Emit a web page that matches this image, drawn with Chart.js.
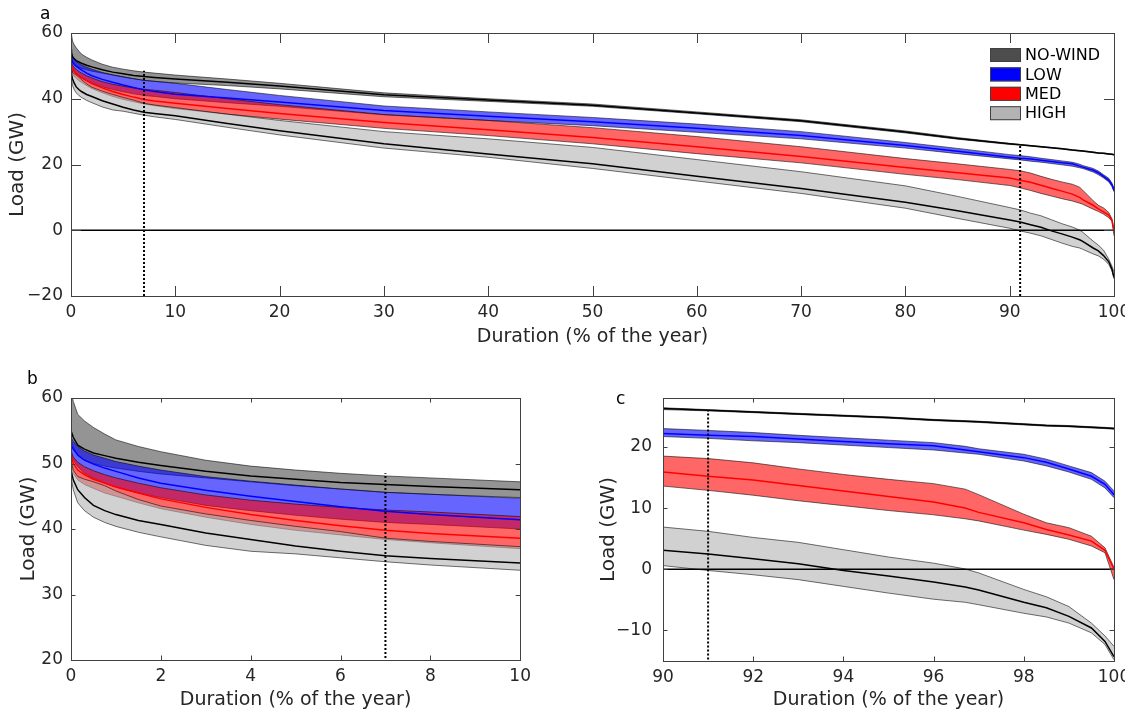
<!DOCTYPE html>
<html>
<head>
<meta charset="utf-8">
<title>Residual load duration curves</title>
<script src="https://cdn.jsdelivr.net/npm/chart.js@4.4.0/dist/chart.umd.min.js"></script>
<style>
  html, body { margin: 0; padding: 0; background: #fff; overflow: hidden; width: 1125px; height: 713px; }
  canvas { position: absolute; }
  .tag { position: absolute; font: 17px "DejaVu Sans", sans-serif; line-height: 17px; color: #000; }
</style>
</head>
<body>
<canvas id="panelA" width="1140" height="355" style="left:0;top:0"></canvas>
<canvas id="panelB" width="537" height="353" style="left:0;top:360px"></canvas>
<canvas id="panelC" width="560" height="353" style="left:580px;top:360px"></canvas>
<div class="tag" style="left:40px;top:5px">a</div>
<div class="tag" style="left:27px;top:370px">b</div>
<div class="tag" style="left:616px;top:390px">c</div>

<script>
// duration (% of the year) where the curves were read
const duration = [0, 0.05, 0.15, 0.3, 0.5, 0.75, 1, 1.5, 2, 3, 4, 5, 6, 7, 8, 10, 15, 20, 30, 40, 50, 60, 70, 80, 85, 90, 91, 92, 93, 94, 95, 96, 96.7, 97, 98, 98.5, 99, 99.5, 99.8, 100];

// load (GW) per scenario: upper edge, central curve, lower edge
const noWindUpper = [61, 59.5, 57.5, 56.5, 55.5, 54.5, 53.6, 52.6, 51.8, 50.5, 49.6, 49.0, 48.5, 48.1, 47.8, 47.2, 46.0, 44.7, 41.8, 40.0, 38.4, 36.0, 33.6, 30.2, 28.2, 26.4, 26.1, 25.8, 25.5, 25.2, 24.9, 24.5, 24.3, 24.2, 23.8, 23.6, 23.5, 23.3, 23.2, 23.1];
const noWindMid   = [55, 54, 52.8, 52.2, 51.6, 51.2, 50.8, 50.2, 49.7, 48.8, 48.1, 47.6, 47.1, 46.8, 46.5, 46.0, 45.0, 43.9, 41.2, 39.6, 38.0, 35.7, 33.3, 29.9, 27.9, 26.3, 26.0, 25.7, 25.4, 25.1, 24.8, 24.4, 24.2, 24.1, 23.7, 23.5, 23.4, 23.2, 23.1, 23.0];
const noWindLower = [53.5, 52.5, 51.2, 50.5, 50.0, 49.6, 49.3, 48.8, 48.4, 47.8, 47.2, 46.6, 46.1, 45.6, 45.3, 44.8, 44.0, 43.0, 40.6, 39.2, 37.7, 35.4, 33.0, 29.6, 27.7, 26.1, 25.9, 25.6, 25.3, 25.0, 24.7, 24.3, 24.1, 24.0, 23.6, 23.4, 23.3, 23.1, 23.0, 22.9];

const lowUpper = [54.0, 53.4, 52.6, 51.9, 51.3, 50.8, 50.3, 49.6, 49.0, 48.0, 47.3, 46.7, 46.1, 45.6, 45.3, 44.7, 42.8, 41.0, 37.8, 36.0, 34.3, 32.3, 30.0, 26.7, 24.9, 23.0, 22.7, 22.35, 21.9, 21.5, 21.1, 20.7, 20.1, 19.7, 18.8, 18.0, 16.9, 15.8, 14.4, 12.8];
const lowMid   = [52.8, 52.2, 51.3, 50.5, 49.9, 49.3, 48.8, 47.8, 47.0, 45.9, 45.0, 44.2, 43.4, 42.7, 42.2, 41.4, 40.2, 39.0, 36.4, 34.7, 33.0, 31.0, 28.8, 25.8, 24.0, 22.2, 21.9, 21.7, 21.3, 20.9, 20.5, 20.2, 19.5, 19.2, 18.25, 17.5, 16.4, 15.2, 13.9, 12.2];
const lowLower = [51.5, 50.5, 49.5, 48.5, 47.8, 47.0, 46.4, 45.5, 44.8, 43.6, 42.8, 42.1, 41.5, 41.0, 40.7, 40.0, 38.8, 37.7, 35.1, 33.4, 31.8, 29.8, 27.8, 25.0, 23.3, 21.7, 21.4, 21.0, 20.7, 20.3, 19.9, 19.5, 19.0, 18.8, 17.7, 16.9, 15.9, 14.7, 13.3, 11.7];

const medUpper = [52.0, 51.0, 50.2, 49.5, 48.9, 48.3, 47.8, 47.0, 46.3, 45.2, 44.4, 43.8, 43.3, 42.9, 42.6, 41.9, 40.0, 38.2, 35.2, 33.4, 31.2, 28.5, 25.4, 21.8, 20.2, 18.5, 18.1, 17.4, 16.4, 15.5, 14.7, 14.0, 13.1, 12.2, 9.0, 7.6, 6.8, 5.4, 3.5, 0.3];
const medMid   = [51.3, 50.0, 49.0, 48.3, 47.6, 47.0, 46.4, 45.5, 44.6, 43.3, 42.2, 41.3, 40.5, 39.8, 39.3, 38.6, 37.0, 35.5, 32.8, 30.6, 28.2, 25.4, 22.4, 19.1, 17.5, 15.9, 15.2, 14.6, 13.7, 12.8, 11.9, 11.0, 10.0, 9.3, 7.6, 6.5, 5.6, 4.6, 3.1, 0];
const medLower = [50.0, 48.5, 47.5, 46.8, 46.2, 45.5, 45.0, 44.0, 43.1, 41.8, 40.7, 39.8, 39.1, 38.4, 37.9, 37.0, 35.3, 33.8, 31.0, 28.8, 26.3, 23.3, 20.5, 17.0, 15.4, 13.6, 12.9, 12.1, 11.2, 10.4, 9.6, 8.9, 8.25, 7.9, 6.4, 5.7, 4.9, 3.8, 2.7, -1.7];

const highUpper = [50.5, 49.0, 48.0, 47.6, 47.2, 46.6, 45.8, 44.5, 43.5, 42.3, 41.3, 40.4, 39.6, 38.6, 38.1, 37.3, 35.3, 33.4, 30.0, 27.8, 25.2, 21.5, 17.8, 13.5, 10.3, 6.9, 6.2, 5.2, 4.4, 3.2, 2.0, 1.0, 0.05, -0.6, -3.3, -4.5, -6.1, -8.8, -10.9, -12.6];
const highMid   = [49.0, 47.5, 46.0, 44.8, 43.6, 42.8, 42.2, 41.3, 40.7, 39.4, 38.4, 37.4, 36.6, 35.9, 35.5, 34.8, 32.5, 30.3, 26.3, 23.2, 20.2, 16.4, 12.7, 8.5, 5.9, 3.1, 2.5, 1.7, 0.9, -0.2, -1.1, -2.1, -2.9, -3.4, -5.4, -6.3, -7.7, -9.6, -11.8, -14.3];
const highLower = [48.0, 46.0, 44.0, 42.8, 41.8, 41.0, 40.4, 39.5, 38.8, 37.5, 36.6, 36.2, 35.6, 35.0, 34.5, 33.7, 31.3, 29.0, 25.0, 22.2, 18.8, 15.0, 11.2, 6.7, 3.6, 0.6, -0.2, -0.9, -1.7, -2.8, -3.9, -4.9, -5.4, -5.8, -7.2, -7.8, -8.8, -10.4, -12.3, -14.8];

// dotted markers: x position and the load where they stop
const markerX = [7, 91];
const markerTop = [48.5, 25.9];

const legendLabels = ['NO-WIND', 'LOW', 'MED', 'HIGH'];

// tick values of the three panels
const ticksAx = [0, 10, 20, 30, 40, 50, 60, 70, 80, 90, 100];
const ticksAy = [-20, 0, 20, 40, 60];
const ticksBx = [0, 2, 4, 6, 8, 10];
const ticksBy = [20, 30, 40, 50, 60];
const ticksCx = [90, 92, 94, 96, 98, 100];
const ticksCy = [-10, 0, 10, 20];

const ink = '#262626';
const legendColors = ['#4d4d4d', '#0000ff', '#ff0000', '#b3b3b3'];
const bandFill = ['rgba(77,77,77,0.6)', 'rgba(0,0,255,0.6)', 'rgba(255,0,0,0.6)', 'rgba(179,179,179,0.6)'];
const midColor = ['#000000', '#0000ff', '#ff0000', '#000000'];
const edge = 'rgba(0,0,0,0.7)';

const bands = [
  [noWindLower, noWindUpper, noWindMid],
  [lowLower, lowUpper, lowMid],
  [medLower, medUpper, medMid],
  [highLower, highUpper, highMid]
];

function pts(ys) {
  return duration.map((x, i) => ({ x: x, y: ys[i] }));
}

function buildDatasets() {
  const sets = [];
  // bands: high order is drawn first, so HIGH ends up on top
  bands.forEach((b, k) => {
    const lowIdx = sets.length;
    sets.push({ data: pts(b[0]), borderColor: edge, borderWidth: 0.8, fill: false, order: 20 - k });
    sets.push({ data: pts(b[1]), borderColor: edge, borderWidth: 0.8, backgroundColor: bandFill[k], fill: lowIdx, order: 20 - k });
  });
  sets.push({ data: [{ x: 0, y: 0 }, { x: 100, y: 0 }], borderColor: '#000', borderWidth: 1.6, fill: false, order: 6 });
  bands.forEach((b, k) => {
    sets.push({ data: pts(b[2]), borderColor: midColor[k], borderWidth: 1.5, fill: false, order: 5 });
  });
  markerX.forEach((mx, i) => {
    sets.push({ data: [{ x: mx, y: -20 }, { x: mx, y: markerTop[i] }], borderColor: '#000', borderWidth: 2, borderDash: [2, 2], fill: false, order: 1 });
  });
  return sets;
}

// box round the plot with inward ticks on all four sides
const framePlugin = {
  id: 'frame',
  afterDatasetsDraw(chart, args, opts) {
    const { ctx, chartArea: a, scales } = chart;
    const t = opts.tick;
    ctx.save();
    ctx.strokeStyle = '#404040';
    ctx.lineWidth = 1;
    ctx.beginPath();
    scales.x.ticks.forEach(tk => {
      const p = Math.round(scales.x.getPixelForValue(tk.value)) + 0.5;
      ctx.moveTo(p, a.bottom); ctx.lineTo(p, a.bottom - t);
      ctx.moveTo(p, a.top); ctx.lineTo(p, a.top + t);
    });
    scales.y.ticks.forEach(tk => {
      const p = Math.round(scales.y.getPixelForValue(tk.value)) + 0.5;
      ctx.moveTo(a.left, p); ctx.lineTo(a.left + t, p);
      ctx.moveTo(a.right, p); ctx.lineTo(a.right - t, p);
    });
    ctx.stroke();
    ctx.strokeRect(Math.round(a.left) + 0.5, Math.round(a.top) + 0.5, Math.round(a.right - a.left), Math.round(a.bottom - a.top));
    ctx.restore();
  }
};

const boxLegend = {
  id: 'boxLegend',
  afterDatasetsDraw(chart) {
    const ctx = chart.ctx;
    const x0 = chart.chartArea.right - 124;
    ctx.save();
    ctx.font = '16px "DejaVu Sans"';
    ctx.textBaseline = 'middle';
    legendLabels.forEach((lab, i) => {
      const ym = 55 + i * 19.4;
      ctx.fillStyle = legendColors[i];
      ctx.fillRect(x0, ym - 7, 31, 14);
      ctx.strokeStyle = '#404040';
      ctx.lineWidth = 1;
      ctx.strokeRect(x0 + 0.5, ym - 6.5, 30, 13);
      ctx.fillStyle = '#000';
      ctx.fillText(lab, x0 + 35, ym + 1);
    });
    ctx.restore();
  }
};

function fmt(v) {
  return v < 0 ? '\u2212' + (-v) : String(v);
}

function panel(id, o) {
  return new Chart(document.getElementById(id), {
    type: 'line',
    data: { datasets: buildDatasets() },
    options: {
      responsive: false,
      animation: false,
      events: [],
      layout: { padding: { top: o.padTop, right: o.padRight, left: 0, bottom: 0 } },
      elements: { point: { radius: 0 }, line: { tension: 0 } },
      plugins: { legend: { display: false }, tooltip: { enabled: false }, frame: { tick: o.tick } },
      scales: {
        x: {
          type: 'linear', min: o.xMin, max: o.xMax,
          grid: { display: false, drawTicks: false }, border: { display: false },
          afterBuildTicks: s => { s.ticks = o.xTicks.map(v => ({ value: v })); },
          afterFit: s => { s.height = o.xAxisH; },
          ticks: { padding: 6, color: ink, font: { family: 'DejaVu Sans', size: 17 }, maxRotation: 0, autoSkip: false, callback: fmt },
          title: { display: true, text: 'Duration (% of the year)', color: ink, font: { family: 'DejaVu Sans', size: 19 }, padding: { top: 0, bottom: o.xTitlePad } }
        },
        y: {
          type: 'linear', min: o.yMin, max: o.yMax,
          grid: { display: false, drawTicks: false }, border: { display: false },
          afterBuildTicks: s => { s.ticks = o.yTicks.map(v => ({ value: v })); },
          afterFit: s => { s.width = o.yAxisW; },
          ticks: { padding: o.yTickPad, color: ink, font: { family: 'DejaVu Sans', size: 17 }, autoSkip: false, callback: fmt },
          title: { display: true, text: 'Load (GW)', color: ink, font: { family: 'DejaVu Sans', size: 20 }, padding: { top: o.yTitlePad, bottom: 0 } }
        }
      }
    },
    plugins: o.legend ? [framePlugin, boxLegend] : [framePlugin]
  });
}

panel('panelA', { xMin: 0, xMax: 100, yMin: -20, yMax: 60, xTicks: ticksAx, yTicks: ticksAy,
  padTop: 33, padRight: 26, xAxisH: 59, yAxisW: 71, tick: 10, yTitlePad: 6, xTitlePad: 7, yTickPad: 8, legend: true });
panel('panelB', { xMin: 0, xMax: 10, yMin: 20, yMax: 60, xTicks: ticksBx, yTicks: ticksBy,
  padTop: 38, padRight: 15, xAxisH: 53, yAxisW: 71, tick: 4.5, yTitlePad: 17, xTitlePad: 2, yTickPad: 8 });
panel('panelC', { xMin: 90, xMax: 100, yMin: -15, yMax: 28, xTicks: ticksCx, yTicks: ticksCy,
  padTop: 38, padRight: 26, xAxisH: 52, yAxisW: 83, tick: 4.5, yTitlePad: 17, xTitlePad: 2, yTickPad: 11 });
</script>
</body>
</html>
